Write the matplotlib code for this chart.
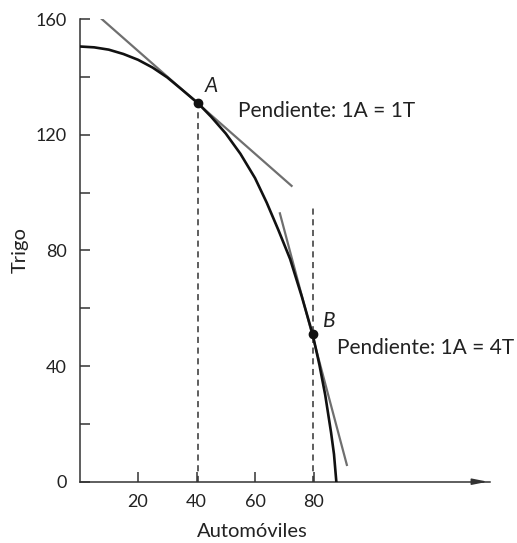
import numpy as np
import matplotlib
matplotlib.use("Agg")
import matplotlib.pyplot as plt

plt.rcParams['font.family'] = ['Lato', 'DejaVu Sans']

# curve (Automoviles, Trigo)
curve_x = [0, 5, 10, 15, 20, 25, 30, 35, 40.4, 45, 50, 55, 60,
           64, 68, 72, 76, 79.7, 82, 84, 86, 87, 87.8]
curve_y = [150.5, 150.2, 149.4, 147.9, 145.9, 143.2, 139.8, 135.6, 131, 126.2,
           120.4, 113.4, 105, 96.5, 87, 77, 64, 51, 40.5, 30, 17, 9.5, 0]

# tangent lines
tan_a_x = [7.6, 72.5]
tan_a_y = [160, 102.3]
tan_b_x = [68.5, 91.4]
tan_b_y = [92.8, 5.8]

# points
pts_x = [40.4, 79.7]
pts_y = [131, 51]
dash_top = [131, 95]

xticks = [20, 40, 60, 80]
yticks = [0, 20, 40, 60, 80, 100, 120, 140, 160]
ylabels = ['0', '', '40', '', '80', '', '120', '', '160']

fig = plt.figure(figsize=(5.17, 5.43), dpi=100)
ax = fig.add_axes([0.1538, 0.1129, 0.7949, 0.8521])

axis_col = '#333333'
txt_col = '#222222'

# dashed verticals
for x, top in zip(pts_x, dash_top):
    ax.plot([x, x], [0, top], color=axis_col, lw=1.1, ls=(0, (4, 3)), zorder=2)

ax.plot(tan_a_x, tan_a_y, color='#6f6f6f', lw=1.6, zorder=3)
ax.plot(tan_b_x, tan_b_y, color='#6f6f6f', lw=1.6, zorder=3)
ax.plot(curve_x, curve_y, color='#111111', lw=1.9, zorder=4,
        solid_joinstyle='round')
ax.plot(pts_x, pts_y, 'o', color='#111111', ms=6, zorder=5)

ax.text(42.9, 134.8, 'A', style='italic', fontsize=15, color=txt_col,
        va='baseline')
ax.text(83.1, 53.4, 'B', style='italic', fontsize=15, color=txt_col,
        va='baseline')
ax.text(54.2, 128.2, 'Pendiente: 1A = 1T', fontsize=15, color=txt_col,
        va='center')
ax.text(88.1, 46.2, 'Pendiente: 1A = 4T', fontsize=15, color=txt_col,
        va='center')

ax.set_xlim(0, 140.5)
ax.set_ylim(0, 160)
for s in ['top', 'right']:
    ax.spines[s].set_visible(False)
for s in ['left', 'bottom']:
    ax.spines[s].set_color(axis_col)
    ax.spines[s].set_linewidth(1.1)

ax.annotate('', xy=(1.0, 0), xytext=(0.95, 0), xycoords='axes fraction',
            arrowprops=dict(arrowstyle='-|>,head_length=0.9,head_width=0.18',
                            color=axis_col, lw=1.1))

ax.set_xticks(xticks)
ax.set_yticks(yticks)
ax.set_yticklabels(ylabels)
ax.tick_params(axis='both', direction='in', length=7, width=1.1,
               color=axis_col, labelsize=13, labelcolor=txt_col, pad=9)

ax.set_xlabel('Automóviles', fontsize=14.5, color=txt_col, va='center')
ax.xaxis.set_label_coords(59 / 140.5, -0.108)
ax.set_ylabel('Trigo', fontsize=14.5, color=txt_col, va='center')
ax.yaxis.set_label_coords(-0.145, 0.5)

fig.savefig('out.png', dpi=100)
